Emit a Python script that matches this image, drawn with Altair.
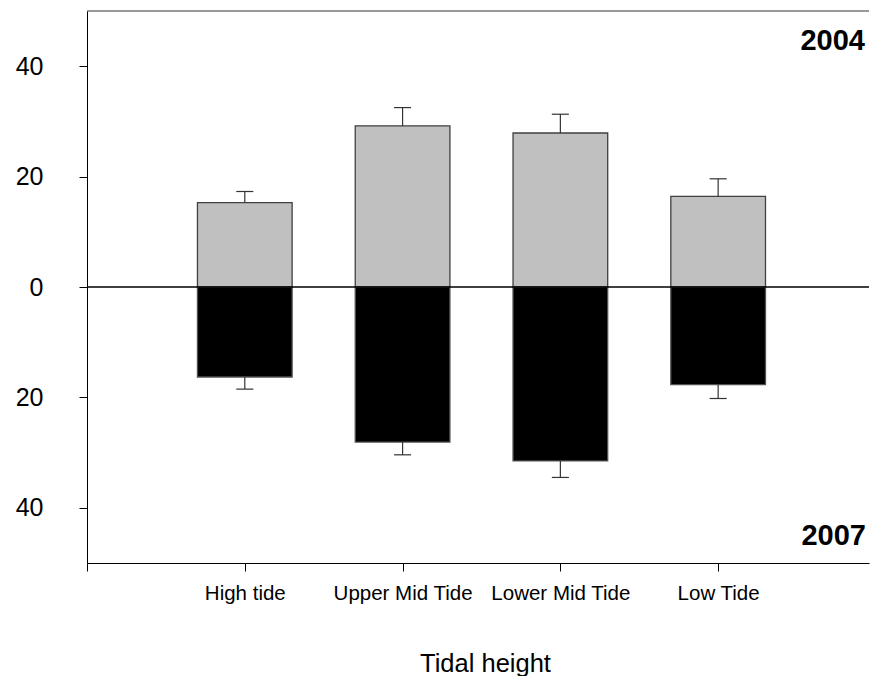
import json
import altair as alt
import pandas as pd

tides = ["High tide", "Upper Mid Tide", "Lower Mid Tide", "Low Tide"]
mean_2004 = [15.3, 29.2, 27.9, 16.4]
se_2004 = [2.0, 3.3, 3.4, 3.2]
mean_2007 = [16.3, 28.1, 31.5, 17.7]
se_2007 = [2.2, 2.3, 3.0, 2.5]
y_ticks = [-40, -20, 0, 20, 40]
x_ticks = [0, 1, 2, 3, 4]

rows = []
for i, t in enumerate(tides):
    rows.append(dict(tide=t, pos=i + 1, year="2004", value=mean_2004[i],
                     err=mean_2004[i] + se_2004[i]))
    rows.append(dict(tide=t, pos=i + 1, year="2007", value=-mean_2007[i],
                     err=-(mean_2007[i] + se_2007[i])))
df = pd.DataFrame(rows)

W, H = 782, 552
XMAX = 4.956
FONT = "Liberation Sans"

xs = alt.Scale(domain=[0, XMAX], nice=False, zero=False)
ys = alt.Scale(domain=[-50, 50], nice=False)

x_axis = alt.Axis(
    values=x_ticks,
    labelExpr=json.dumps([""] + tides) + "[datum.value]",
    grid=False, tickSize=8, tickColor="black", domainColor="black",
    labelFontSize=20.5, labelPadding=12, labelColor="black", labelFont=FONT,
    title="Tidal height", titleFontSize=25.5, titleFontWeight="normal",
    titleFont=FONT, titleColor="black", titleX=398, titleY=108,
    titleAlign="center", titleBaseline="alphabetic",
)
y_axis = alt.Axis(
    values=y_ticks, labelExpr="abs(datum.value)",
    grid=False, tickSize=8, tickColor="black", domainColor="black",
    labelFontSize=25, labelPadding=36, labelColor="black", labelFont=FONT,
    title=None,
)

base = alt.Chart(df).transform_calculate(
    x0="datum.pos - 0.3", x1="datum.pos + 0.3",
    c0="datum.pos - 0.054", c1="datum.pos + 0.054", zero="0",
)

bars = base.mark_bar(strokeWidth=1.3).encode(
    x=alt.X("x0:Q", scale=xs, axis=x_axis),
    x2="x1:Q",
    y=alt.Y("value:Q", scale=ys, axis=y_axis),
    y2="zero:Q",
    color=alt.Color("year:N", scale=alt.Scale(domain=["2004", "2007"],
                    range=["#c0c0c0", "#000000"]), legend=None),
    stroke=alt.Stroke("year:N", scale=alt.Scale(domain=["2004", "2007"],
                      range=["#404040", "#505050"]), legend=None),
)

stems = base.mark_rule(color="#333333", strokeWidth=1.2).encode(
    x=alt.X("pos:Q", scale=xs, axis=x_axis),
    y=alt.Y("value:Q", scale=ys, axis=y_axis),
    y2="err:Q",
)
caps = base.mark_rule(color="#333333", strokeWidth=1.2).encode(
    x=alt.X("c0:Q", scale=xs, axis=x_axis),
    x2="c1:Q",
    y=alt.Y("err:Q", scale=ys, axis=y_axis),
)

one = pd.DataFrame({"z": [0]})
zero_line = alt.Chart(one).mark_rule(color="black", strokeWidth=1.5).encode(
    y=alt.Y("z:Q", scale=ys, axis=y_axis),
    x=alt.value(0), x2=alt.value(W),
)
top_line = alt.Chart(one).mark_rule(color="#333333", strokeWidth=1).encode(
    y=alt.value(0), x=alt.value(0), x2=alt.value(W),
)
lab04 = alt.Chart(one).mark_text(
    text="2004", fontSize=29, fontWeight="bold", font=FONT, align="right",
    baseline="alphabetic", color="black",
).encode(x=alt.value(W - 4), y=alt.value(39))
lab07 = alt.Chart(one).mark_text(
    text="2007", fontSize=29, fontWeight="bold", font=FONT, align="right",
    baseline="alphabetic", color="black",
).encode(x=alt.value(W - 3), y=alt.value(534))

chart = alt.layer(bars, stems, caps, zero_line, top_line, lab04, lab07).properties(
    width=W, height=H, autosize="none",
    padding={"left": 87, "top": 11, "right": 1, "bottom": 113},
).configure(background="white").configure_view(stroke=None)

chart.save("out.html", embed_options={"renderer": "svg", "actions": False})
